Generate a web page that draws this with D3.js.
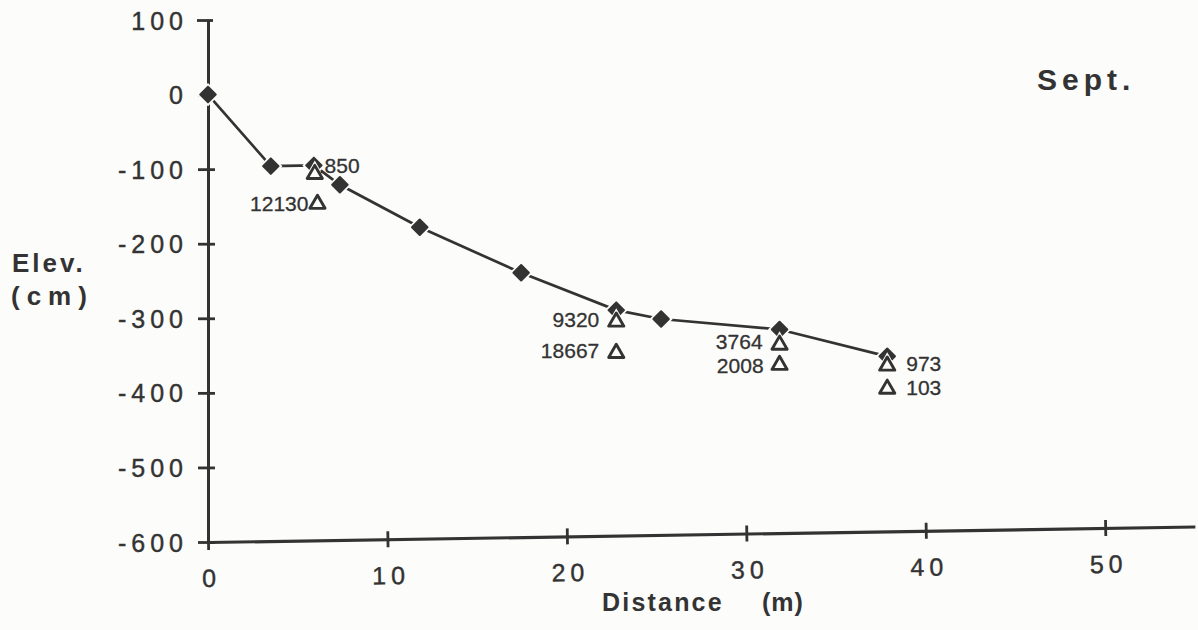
<!DOCTYPE html>
<html>
<head>
<meta charset="utf-8">
<script src="https://cdn.jsdelivr.net/npm/d3@7"></script>
<style>
  html, body { margin: 0; padding: 0; background: #fcfcfa; }
  svg { display: block; }
  text { font-family: "Liberation Sans", Arial, Helvetica, sans-serif; fill: #333; }
</style>
</head>
<body>
<svg id="chart" width="1198" height="630"></svg>
<script>
// ---------------- data ----------------
const yTicks = [100, 0, -100, -200, -300, -400, -500, -600];
const xTicks = [0, 10, 20, 30, 40, 50];

// surface profile (line with diamond markers), distance in m, elevation in cm
const profileDist = [0, 3.5, 5.9, 7.35, 11.8, 17.45, 22.75, 25.25, 31.85, 37.85];
const profileElev = [0, -96, -95, -121, -178, -239, -289, -301, -315, -351];

// sampling stations (open triangles) with counts
const upperDist = [5.95, 22.75, 31.85, 37.85];
const upperElev = [-104, -302, -333, -361];
const upperCount = [".850", "9320", "3764", "973"];
const lowerDist = [6.1, 22.75, 31.85, 37.85];
const lowerElev = [-144, -344, -360, -392];
const lowerCount = ["12130", "18667", "2008", "103"];

// ---------------- layout ----------------
const ink = "#333";
const bg = "#fcfcfa";
const upperDx = [4, -17, -17, 19], upperDy = [1, 7, 6, 7];
const lowerDx = [-9, -17, -16, 19], lowerDy = [9, 7, 10, 8];

const svg = d3.select("#chart");

const x = d3.scaleLinear().domain([0, 55]).range([208, 1195]);
const y = d3.scaleLinear().domain([-600, 100]).range([542, 20]);

// ---- Y axis ----
const yAxis = d3.axisLeft(y).tickValues(yTicks).tickSizeOuter(0).tickSizeInner(0)
  .tickFormat(d => String(d));
const gy = svg.append("g").attr("transform", "translate(208,0)").call(yAxis);
gy.select(".domain").attr("stroke", ink).attr("stroke-width", 3);
gy.selectAll(".tick line").attr("x1", d => d === 100 ? -11 : -10).attr("x2", d => d === 100 ? 5 : 7)
  .attr("stroke", ink).attr("stroke-width", 2.8);
gy.selectAll(".tick text")
  .attr("x", -25).attr("dx", 5).attr("dy", "0.36em")
  .attr("text-anchor", "end")
  .style("font-size", "25px").style("letter-spacing", "5px")
  .attr("fill", ink).attr("stroke", ink).attr("stroke-width", 0.4);

// ---- X axis (slightly skewed as in the scan) ----
const xAxis = d3.axisBottom(x).tickValues(xTicks).tickSizeOuter(0).tickSizeInner(0)
  .tickFormat(d => String(d));
const gx = svg.append("g").attr("transform", "rotate(-0.9,208,542) translate(0,542)").call(xAxis);
gx.select(".domain").attr("stroke", ink).attr("stroke-width", 3.2);
gx.selectAll(".tick line").attr("y1", -8).attr("y2", 8).attr("stroke", ink).attr("stroke-width", 2.8);
gx.selectAll(".tick text")
  .attr("y", 45).attr("dy", 0).attr("dx", 2.5)
  .attr("text-anchor", "middle")
  .style("font-size", "25px").style("letter-spacing", "5px")
  .attr("fill", ink).attr("stroke", ink).attr("stroke-width", 0.4);

// ---- axis titles ----
svg.append("text").attr("x", 12).attr("y", 272).text("Elev.")
  .style("font-size", "26px").style("font-weight", "bold").style("letter-spacing", "3px");
svg.append("text").attr("x", 11).attr("y", 305).text("(cm)")
  .style("font-size", "26px").style("font-weight", "bold").style("letter-spacing", "7px");
svg.append("text").attr("x", 602).attr("y", 611).text("Distance")
  .style("font-size", "25px").style("font-weight", "bold").style("letter-spacing", "2.2px");
svg.append("text").attr("x", 762).attr("y", 611).text("(m)")
  .style("font-size", "25px").style("font-weight", "bold").style("letter-spacing", "1px");
svg.append("text").attr("x", 1037).attr("y", 90).text("Sept.")
  .style("font-size", "30px").style("font-weight", "bold").style("letter-spacing", "5px");

// ---- profile line ----
const profile = profileDist.map((d, i) => ({ d, e: profileElev[i] }));
const line = d3.line().x(p => x(p.d)).y(p => y(p.e));
svg.append("path").datum(profile).attr("d", line)
  .attr("fill", "none").attr("stroke", ink).attr("stroke-width", 2.7);

const diamond = d3.symbol().type(d3.symbolSquare).size(120);
const diamondHalo = d3.symbol().type(d3.symbolSquare).size(270);
const pg = svg.append("g");
pg.selectAll("path.halo").data(profile).join("path").attr("class", "halo")
  .attr("d", diamondHalo)
  .attr("transform", p => `translate(${x(p.d)},${y(p.e)}) rotate(45)`)
  .attr("fill", bg);
pg.selectAll("path.dia").data(profile).join("path").attr("class", "dia")
  .attr("d", diamond)
  .attr("transform", p => `translate(${x(p.d)},${y(p.e)}) rotate(45)`)
  .attr("fill", ink).attr("stroke", ink).attr("stroke-width", 2).attr("stroke-linejoin", "round");

// ---- triangles with counts ----
const tri = d3.symbol().type(d3.symbolTriangle).size(100);
const triHalo = d3.symbol().type(d3.symbolTriangle).size(240);
function drawStations(dist, elev, labels, dxs, dys) {
  const data = dist.map((d, i) => ({ d, e: elev[i], label: labels[i], dx: dxs[i], dy: dys[i] }));
  const g = svg.append("g");
  g.selectAll("path.th").data(data).join("path").attr("class", "th")
    .attr("d", triHalo)
    .attr("transform", p => `translate(${x(p.d)},${y(p.e) + 2})`)
    .attr("fill", bg);
  g.selectAll("path.t").data(data).join("path").attr("class", "t")
    .attr("d", tri)
    .attr("transform", p => `translate(${x(p.d)},${y(p.e) + 2})`)
    .attr("fill", bg).attr("stroke", ink).attr("stroke-width", 2.9).attr("stroke-linejoin", "round");
  g.selectAll("text").data(data).join("text")
    .attr("x", p => x(p.d) + p.dx)
    .attr("y", p => y(p.e) + p.dy)
    .attr("text-anchor", p => p.dx < 0 ? "end" : "start")
    .style("font-size", "21px")
    .attr("stroke", ink).attr("stroke-width", 0.3)
    .text(p => p.label);
}
drawStations(upperDist, upperElev, upperCount, upperDx, upperDy);
drawStations(lowerDist, lowerElev, lowerCount, lowerDx, lowerDy);
</script>
</body>
</html>
